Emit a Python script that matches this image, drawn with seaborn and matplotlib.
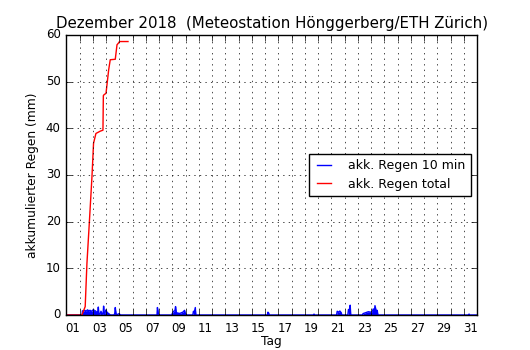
import matplotlib
matplotlib.use("Agg")
import matplotlib.pyplot as plt
import seaborn as sns
import numpy as np

# x values: days since 1 Dec 2018 00:00
total_t = [0.10, 1.18, 1.43, 1.56, 1.74, 1.94, 2.06, 2.24, 2.57, 2.77, 2.80, 2.85, 3.00,
           3.10, 3.20, 3.32, 3.70, 3.83, 3.95, 4.02, 4.66]
total_v = [0.0, 0.0, 1.8, 11.0, 19.7, 29.6, 36.8, 38.9, 39.4, 39.6, 47.0, 47.2, 47.5,
           50.0, 52.5, 54.7, 54.8, 57.9, 58.3, 58.6, 58.6]

rain_t = [0.00, 1.20, 1.22, 1.30, 1.40, 1.50, 1.60, 1.70, 1.80, 1.90, 2.00, 2.06, 2.12,
          2.20, 2.30, 2.38, 2.42, 2.46, 2.55, 2.62, 2.70, 2.78, 2.82, 2.86, 2.95, 3.00,
          3.05, 3.15, 3.25, 3.32, 3.60, 3.66, 3.70, 3.76, 3.85, 4.00, 4.05, 4.10,
          6.85, 6.88, 6.92, 6.96,
          7.95, 8.05, 8.10, 8.20, 8.25, 8.30, 8.45, 8.50, 8.55, 8.70, 8.80, 8.93, 8.98, 9.10,
          9.55, 9.60, 9.66, 9.74, 9.78,
          15.18, 15.22, 15.28, 15.32,
          18.68, 18.70, 18.72,
          20.40, 20.45, 20.55, 20.65, 20.75, 20.80, 21.25, 21.30, 21.38, 21.43, 21.47,
          22.35, 22.40, 22.60, 22.80, 23.00, 23.10, 23.17, 23.25, 23.30, 23.40, 23.47, 23.52,
          30.35, 30.40, 30.45,
          31.00]
rain_v = [0.0, 0.0, 0.9, 0.8, 1.0, 0.8, 1.1, 0.9, 1.0, 0.8, 1.0, 1.2, 0.8,
          0.9, 0.6, 0.5, 1.7, 0.3, 0.2, 0.8, 0.3, 0.2, 1.9, 0.3, 0.6, 1.1,
          0.7, 0.4, 0.2, 0.0, 0.0, 0.3, 1.6, 0.2, 0.1, 0.3, 0.1, 0.0,
          0.0, 1.6, 1.0, 0.0,
          0.0, 0.6, 0.8, 0.9, 1.8, 0.6, 0.3, 0.4, 0.3, 0.5, 0.6, 1.0, 0.4, 0.0,
          0.0, 0.8, 0.5, 1.6, 0.0,
          0.0, 0.6, 0.4, 0.0,
          0.0, 0.2, 0.0,
          0.0, 0.8, 0.6, 0.85, 0.5, 0.0, 0.0, 1.2, 0.6, 2.1, 0.0,
          0.0, 0.3, 0.5, 0.7, 0.6, 0.8, 1.3, 0.7, 2.0, 0.8, 1.0, 0.0,
          0.0, 0.2, 0.0,
          0.0]

day_labels = ["%02d" % d for d in range(1, 32, 2)]

plt.style.use("classic")
plt.rcParams["font.family"] = ["DejaVu Sans"]

fig = plt.figure(figsize=(5.3, 3.5), dpi=100)
ax = fig.add_axes([0.125, 0.1, 0.775, 0.8])

sns.lineplot(x=rain_t, y=rain_v, ax=ax, color="blue", lw=1.0,
             label="akk. Regen 10 min", estimator=None, sort=False)
ax.fill_between(rain_t, 0, rain_v, color="blue", lw=0)
sns.lineplot(x=total_t, y=total_v, ax=ax, color="red", lw=1.0,
             label="akk. Regen total", estimator=None, sort=False)

ax.set_xlim(0, 31)
ax.set_ylim(0, 60)
ax.set_xticks(range(0, 32))
ax.set_xticklabels([])
ax.set_xticks([d - 0.5 for d in range(1, 32, 2)], minor=True)
ax.set_xticklabels(day_labels, minor=True)
ax.tick_params(axis="x", which="minor", length=0, labelsize=8.5, pad=5)
ax.tick_params(axis="x", which="major", length=4, direction="in", top=True)
ax.set_yticks(range(0, 61, 10))
ax.tick_params(axis="y", which="major", length=4, direction="in", right=True, labelsize=8.5)
ax.grid(True, which="major", linestyle=":", color="black", linewidth=0.5)

ax.set_xlabel("Tag", fontsize=8.8, labelpad=0)
ax.set_ylabel("akkumulierter Regen (mm)", fontsize=8.8)
ax.set_title("Dezember 2018  (Meteostation Hönggerberg/ETH Zürich)", fontsize=10.8)

leg = ax.legend(loc="center right", fontsize=9.0, handlelength=1.7, handletextpad=1.1,
                frameon=True, fancybox=False, borderaxespad=0.5, labelspacing=0.45)
leg.get_frame().set_edgecolor("black")

fig.savefig("out.png", dpi=100, facecolor="white")
